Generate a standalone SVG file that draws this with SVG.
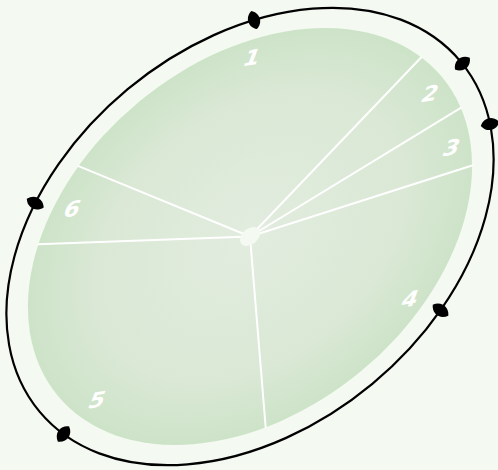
<svg xmlns="http://www.w3.org/2000/svg" width="498" height="470" viewBox="0 0 498 470">
  <defs>
    <radialGradient id="pieFill" cx="50%" cy="50%" r="50%">
      <stop offset="0" stop-color="#e2ecdf"/>
      <stop offset="0.7" stop-color="#dae8d5"/>
      <stop offset="1" stop-color="#cde3c8"/>
    </radialGradient>
    <path id="lens" d="M-9.5,0 C-5,-8 5,-8 9.5,0 C5,8 -5,8 -9.5,0 Z"/>
    <style>
      .sep { stroke: #ffffff; stroke-width: 2; fill: none; stroke-linecap: round; }
      .ring { stroke: #000000; stroke-width: 2.2; fill: none; }
      .mark { fill: #000000; }
      .lbl { font-family: "DejaVu Sans", "Liberation Sans", sans-serif; font-size: 22px; font-weight: bold; font-style: italic; fill: #ffffff; text-anchor: middle; }
    </style>
  </defs>
  <rect x="0" y="0" width="498" height="470" fill="#f4f9f1"/>

  <g transform="translate(250,236.5) rotate(-39.7)">
    <g id="pie">
      <ellipse cx="0" cy="0" rx="249.6" ry="174.6" fill="url(#pieFill)"/>
    </g>
    <g id="connectors">
      <line class="sep" x1="0" y1="0" x2="-87.0" y2="-163.7"/>
      <line class="sep" x1="0" y1="0" x2="246.3" y2="-28.5"/>
      <line class="sep" x1="0" y1="0" x2="244.3" y2="35.7"/>
      <line class="sep" x1="0" y1="0" x2="216.2" y2="87.3"/>
      <line class="sep" x1="0" y1="0" x2="-109.8" y2="156.8"/>
      <line class="sep" x1="0" y1="0" x2="-167.7" y2="-129.3"/>
      <ellipse id="hub" cx="0" cy="0" rx="11.2" ry="7.9" fill="#f4f9f1"/>
    </g>
    <g id="ring">
      <ellipse class="ring" cx="0" cy="0" rx="273.8" ry="191.5"/>
      <use href="#lens" class="mark" transform="translate(141.4,-164.0) rotate(-67.1)"/>
      <use href="#lens" class="mark" transform="translate(273.8,2.7) rotate(1.1)"/>
      <use href="#lens" class="mark" transform="translate(256.6,66.8) rotate(28.0)"/>
      <use href="#lens" class="mark" transform="translate(99.5,178.4) rotate(74.7)"/>
      <use href="#lens" class="mark" transform="translate(-269.7,32.9) rotate(166.0)"/>
      <use href="#lens" class="mark" transform="translate(-143.9,-162.9) rotate(-113.4)"/>
    </g>
  </g>

  <g id="slice-1"><text class="lbl" transform="translate(251,65) matrix(1.033,-0.174,-0.174,0.968,0,0)">1</text></g>
  <g id="slice-2"><text class="lbl" transform="translate(429,101) matrix(1.033,-0.174,-0.174,0.968,0,0)">2</text></g>
  <g id="slice-3"><text class="lbl" transform="translate(450.5,155) matrix(1.033,-0.174,-0.174,0.968,0,0)">3</text></g>
  <g id="slice-4"><text class="lbl" transform="translate(409,306.5) matrix(1.033,-0.174,-0.174,0.968,0,0)">4</text></g>
  <g id="slice-5"><text class="lbl" transform="translate(96,407.5) matrix(1.033,-0.174,-0.174,0.968,0,0)">5</text></g>
  <g id="slice-6"><text class="lbl" transform="translate(71,216.5) matrix(1.033,-0.174,-0.174,0.968,0,0)">6</text></g>
</svg>
